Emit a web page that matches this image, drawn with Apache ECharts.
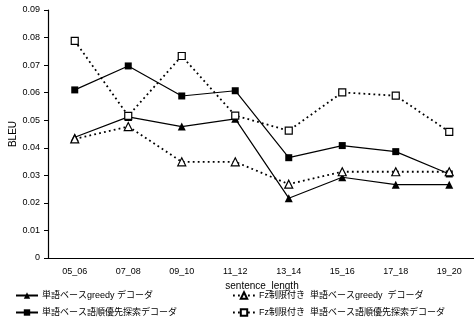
<!DOCTYPE html>
<html><head><meta charset="utf-8">
<script src="https://cdn.jsdelivr.net/npm/echarts@6/dist/echarts.min.js"></script>
<style>html,body{margin:0;padding:0;background:#fff}#c{width:474px;height:324px}</style>
</head><body><div id="c"></div>
<script>
const categories = ['05_06','07_08','09_10','11_12','13_14','15_16','17_18','19_20'];
const yTicks = [0,0.01,0.02,0.03,0.04,0.05,0.06,0.07,0.08,0.09];
const greedy = [0.0438,0.0512,0.0477,0.0505,0.0217,0.0293,0.0266,0.0266];
const bestFirst = [0.0610,0.0697,0.0588,0.0607,0.0364,0.0408,0.0386,0.0305];
const fzGreedy = [0.0432,0.0477,0.0349,0.0349,0.0268,0.0313,0.0313,0.0313];
const fzBestFirst = [0.0788,0.0516,0.0733,0.0517,0.0462,0.0601,0.0589,0.0458];
const names = ['単語ベースgreedy デコーダ','単語ベース語順優先探索デコーダ','Fz制限付き  単語ベースgreedy  デコーダ','Fz制限付き  単語ベース語順優先探索デコーダ'];

const font = 'Liberation Sans, Arial, Noto Sans CJK JP, sans-serif';
function mk(name, data, symbol, filled, dotted){
  return {
    name, type:'line', data, symbol, symbolSize: symbol==='triangle'?8:7,
    lineStyle:{color:'#000', width: dotted?1.8:1.2, type: dotted?[1.8,3.2]:'solid'},
    itemStyle:{color: filled?'#000':'#fff', borderColor:'#000', borderWidth: filled?0:1.2},
    emphasis:{disabled:true}, animation:false
  };
}
const chart = echarts.init(document.getElementById('c'));
function leg(i, left, top){
  return {left, top, data:[names[i]], itemWidth:22, itemHeight:8, itemGap:4,
    padding:0,
    textStyle:{fontFamily:font, fontSize:9, color:'#000', padding:[0,0,0,-1]}};
}
chart.setOption({
  backgroundColor:'#fff',
  animation:false,
  grid:{left:48, right:-2, top:10, bottom:66, containLabel:false, outerBoundsMode:'none'},
  xAxis:{type:'category', data:categories, boundaryGap:true,
    name:'sentence_length', nameLocation:'middle', nameGap:23, nameMoveOverlap:false,
    nameTextStyle:{fontFamily:font, fontSize:10, color:'#000'},
    axisLine:{lineStyle:{color:'#000', width:1.2}},
    axisTick:{inside:true, length:4, lineStyle:{color:'#000'}},
    axisLabel:{fontFamily:font, fontSize:9, color:'#000', margin:9}},
  yAxis:{type:'value', min:0, max:0.09, interval:0.01,
    name:'BLEU', nameLocation:'middle', nameGap:30, nameRotate:90, nameMoveOverlap:false,
    nameTextStyle:{fontFamily:font, fontSize:10, color:'#000'},
    axisLine:{show:true, lineStyle:{color:'#000', width:1.2}},
    axisTick:{show:true, length:4, lineStyle:{color:'#000'}},
    splitLine:{show:false},
    axisLabel:{fontFamily:font, fontSize:9, color:'#000', margin:8,
      formatter:v=>{const t=yTicks.find(x=>Math.abs(x-v)<1e-9); return t===0?'0':(t!==undefined?t.toFixed(2):'');}}},
  legend:[leg(0,15,291), leg(1,15,308), leg(2,232,291), leg(3,232,308)],
  series:[
    mk(names[0], greedy, 'triangle', true, false),
    mk(names[1], bestFirst, 'rect', true, false),
    mk(names[2], fzGreedy, 'triangle', false, true),
    mk(names[3], fzBestFirst, 'rect', false, true)
  ]
});
</script></body></html>
